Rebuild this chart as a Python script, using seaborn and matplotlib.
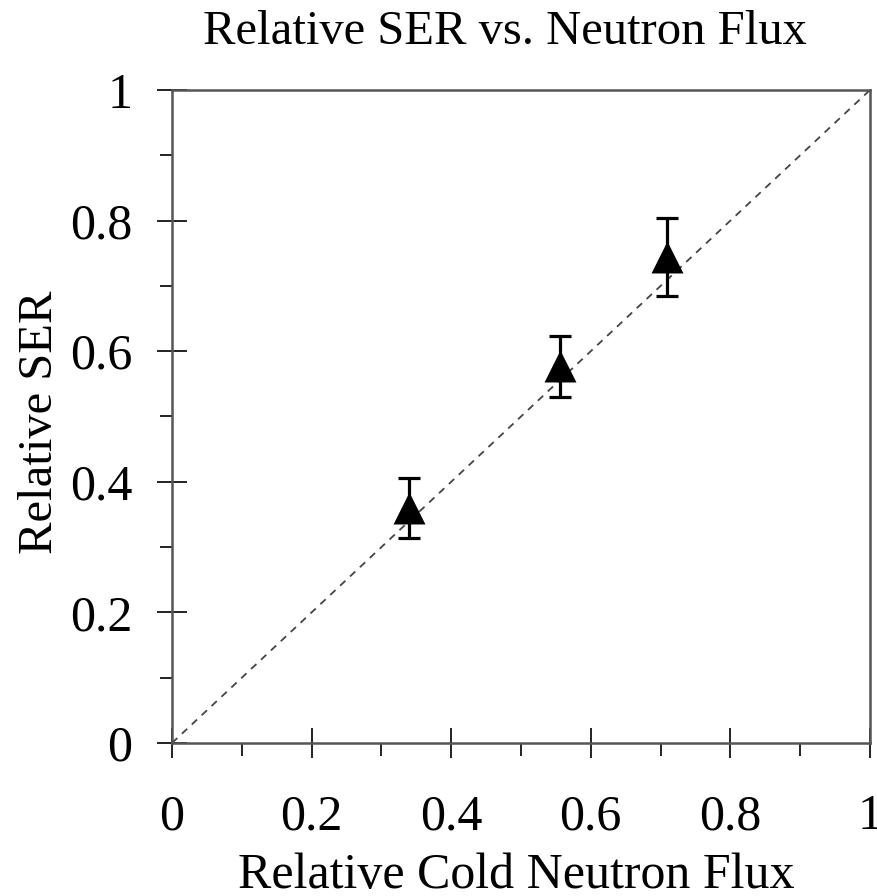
import matplotlib
matplotlib.use("Agg")
import matplotlib.pyplot as plt
import seaborn as sns
import numpy as np
import pandas as pd
from matplotlib.ticker import MultipleLocator

# Data
flux = [0.340, 0.556, 0.709]
ser = [0.360, 0.577, 0.744]
ser_err = [0.046, 0.047, 0.060]
ref_x = [0.0, 1.0]
ref_y = [0.0, 1.0]
tick_vals = [0, 0.2, 0.4, 0.6, 0.8, 1]
tick_labels = ["0", "0.2", "0.4", "0.6", "0.8", "1"]

title = "Relative SER vs. Neutron Flux"
xlabel = "Relative Cold Neutron Flux"
ylabel = "Relative SER"

sns.set_theme(style="white")
plt.rcParams['font.family'] = ['Liberation Serif', 'DejaVu Serif']

fig = plt.figure(figsize=(8.78, 8.96), dpi=100)
ax = fig.add_axes([172/878, 1-743/896, (870-172)/878, (743-90)/896])

df = pd.DataFrame({"flux": flux, "ser": ser})
sns.lineplot(x=ref_x, y=ref_y, ax=ax, color="#444444", lw=1.3,
             linestyle=(0, (4, 3.5)), zorder=1)
ax.errorbar(flux, ser, yerr=ser_err, fmt="none", ecolor="black",
            elinewidth=2.3, capsize=8, capthick=2.3, zorder=2)
sns.scatterplot(data=df, x="flux", y="ser", ax=ax, marker="^", s=23**2,
                color="black", linewidth=0, zorder=3)

ax.set_xlim(0, 1)
ax.set_ylim(0, 1)
ax.set_xticks(tick_vals)
ax.set_xticklabels(tick_labels)
ax.set_yticks(tick_vals)
ax.set_yticklabels(tick_labels)
ax.xaxis.set_minor_locator(MultipleLocator(0.1))
ax.yaxis.set_minor_locator(MultipleLocator(0.1))
ax.tick_params(which="major", direction="inout", length=21, width=1.4,
               color="#222222", labelsize=36, bottom=True, left=True,
               labelcolor="black")
ax.tick_params(which="minor", direction="out", length=9, width=1.4,
               color="#222222", bottom=True, left=True)
ax.tick_params(axis="x", which="major", pad=26)
ax.tick_params(axis="y", which="major", pad=18)

for s in ax.spines.values():
    s.set_visible(True)
    s.set_color("#555555")
    s.set_linewidth(1.8)

ax.set_xlabel(xlabel, fontsize=36, color="black")
ax.xaxis.label.set_va("baseline")
ax.xaxis.set_label_coords(0.494, -(888 - 743) / 653)
ax.set_ylabel(ylabel, fontsize=35, color="black")
ax.yaxis.label.set_va("baseline")
ax.yaxis.set_label_coords((52 - 172) / 698, 1 - (422 - 90) / 653)
fig.text(505/878, 1-32/896, title, fontsize=35, ha="center", va="center",
         color="black")

fig.savefig("out.png", dpi=100, facecolor="white")
